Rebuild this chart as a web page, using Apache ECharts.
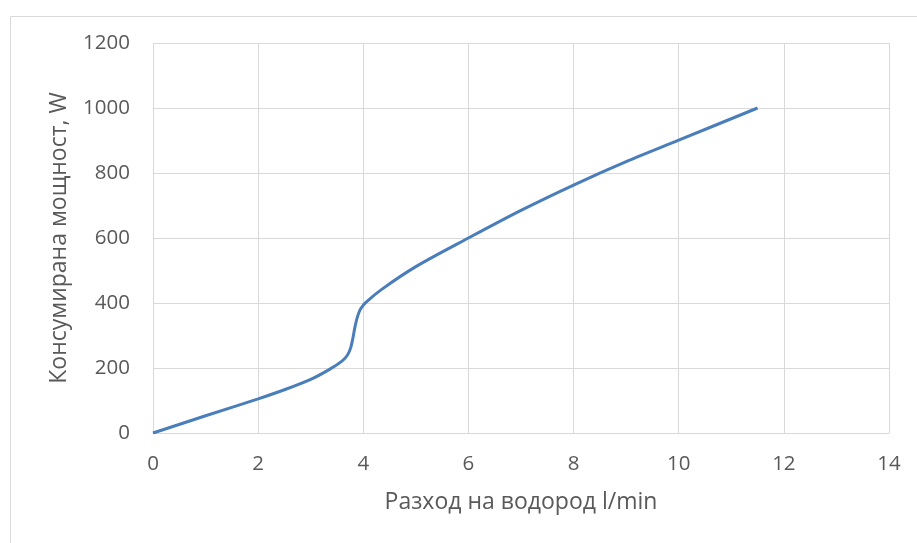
<!DOCTYPE html>
<html><head><meta charset="utf-8">
<script src="https://cdn.jsdelivr.net/npm/echarts@6/dist/echarts.min.js"></script>
<style>html,body{margin:0;padding:0;background:#fff}#c{width:917px;height:543px}</style>
</head><body><div id="c"></div>
<script>
const flow = [0, 1, 2, 2.5, 3, 3.35, 3.6, 3.7, 3.76, 3.8, 3.84, 3.89, 3.95, 4.05, 4.35, 5, 6, 7, 8, 9, 10, 11.5];
const power = [0, 53, 105, 133, 165, 195, 222, 240, 262, 290, 325, 358, 382, 402, 442, 512, 600, 685, 763, 835, 901, 1000];
const xTitle = 'Разход на водород l/min';
const yTitle = 'Консумирана мощност, W';
const font = "'Open Sans', sans-serif";
const chart = echarts.init(document.getElementById('c'), null, {renderer: 'canvas'});
chart.setOption({
  animation: false,
  graphic: [{type: 'rect', left: 8, top: 14, shape: {width: 1000, height: 1000}, style: {fill: 'none', stroke: '#d9d9d9', lineWidth: 1}, z: -1}],
  grid: {left: 153, right: 28, top: 43, bottom: 110},
  xAxis: {
    type: 'value', min: 0, max: 14, interval: 2,
    name: xTitle, nameLocation: 'middle', nameGap: 58,
    nameTextStyle: {fontFamily: font, fontSize: 23, color: '#595959'},
    axisLine: {show: true, lineStyle: {color: '#d9d9d9'}},
    axisTick: {show: false},
    axisLabel: {fontFamily: font, fontSize: 20.5, color: '#595959', margin: 21, formatter: v => String(v)},
    splitLine: {show: true, lineStyle: {color: '#d9d9d9', width: 1}}
  },
  yAxis: {
    type: 'value', min: 0, max: 1200, interval: 200,
    name: yTitle, nameLocation: 'middle', nameGap: 82,
    nameTextStyle: {fontFamily: font, fontSize: 23, color: '#595959'},
    axisLine: {show: false},
    axisTick: {show: false},
    axisLabel: {fontFamily: font, fontSize: 20.5, color: '#595959', margin: 23, formatter: v => String(v)},
    splitLine: {show: true, lineStyle: {color: '#d9d9d9', width: 1}}
  },
  series: [{
    type: 'line', data: flow.map((x, i) => [x, power[i]]),
    smooth: 0.3, showSymbol: false, symbol: 'none',
    lineStyle: {color: '#4a7ebb', width: 3}
  }]
});
</script></body></html>
